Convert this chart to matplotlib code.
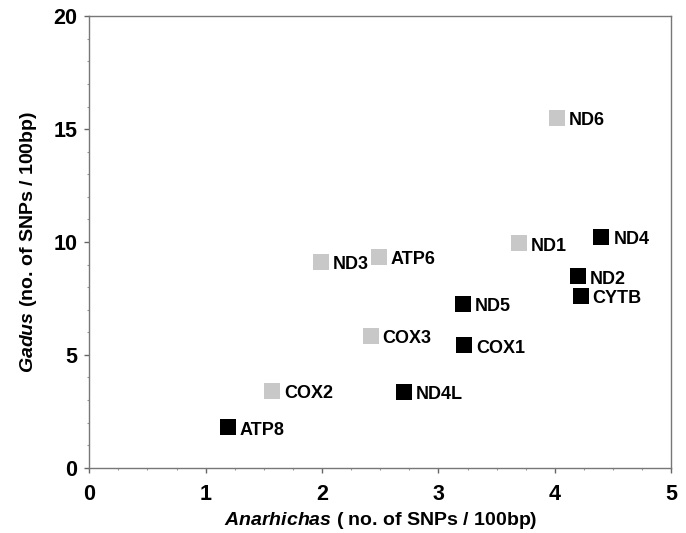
import matplotlib
matplotlib.use('Agg')
import matplotlib.pyplot as plt
from matplotlib.ticker import MultipleLocator

plt.rcParams['font.family'] = ['Liberation Sans', 'DejaVu Sans']
plt.rcParams['font.weight'] = 'bold'
plt.rcParams['mathtext.fontset'] = 'custom'
plt.rcParams['mathtext.bfit'] = 'Liberation Sans:italic:bold'
plt.rcParams['mathtext.it'] = 'Liberation Sans:italic:bold'

# genes with Gadus SNPs higher (grey) / lower (black) relative ranking
grey_genes = ['COX2', 'ND3', 'ATP6', 'COX3', 'ND1', 'ND6']
grey_x = [1.57, 1.99, 2.49, 2.42, 3.69, 4.02]
grey_y = [3.42, 9.13, 9.35, 5.84, 9.94, 15.5]

black_genes = ['ATP8', 'ND4L', 'ND5', 'COX1', 'ND4', 'ND2', 'CYTB']
black_x = [1.19, 2.70, 3.21, 3.22, 4.40, 4.20, 4.22]
black_y = [1.79, 3.36, 7.27, 5.42, 10.23, 8.48, 7.60]

fig = plt.figure(figsize=[6.86, 5.33], dpi=100)
ax = fig.add_axes([0.130, 0.1225, 0.8486, 0.8469])

ax.plot(grey_x, grey_y, 's', color='#c8c8c8', markersize=11, markeredgewidth=0)
ax.plot(black_x, black_y, 's', color='black', markersize=11, markeredgewidth=0)

for names, xs, ys in [(grey_genes, grey_x, grey_y), (black_genes, black_x, black_y)]:
    for name, x, y in zip(names, xs, ys):
        ax.annotate(name, xy=(x, y), xytext=(8.5, -0.5), textcoords='offset points',
                    fontsize=13, fontweight='bold', va='center_baseline', ha='left')

ax.set_xlim(0, 5)
ax.set_ylim(0, 20)
ax.xaxis.set_major_locator(MultipleLocator(1))
ax.xaxis.set_minor_locator(MultipleLocator(0.25))
ax.yaxis.set_major_locator(MultipleLocator(5))
ax.yaxis.set_minor_locator(MultipleLocator(1))

for s in ax.spines.values():
    s.set_color('#777777')
    s.set_linewidth(1.0)

ax.tick_params(which='major', length=3.5, width=1, color='#666666', labelsize=15.5)
ax.tick_params(which='minor', length=1.5, width=0.8, color='#999999')
ax.tick_params(axis='x', which='major', pad=8)
ax.tick_params(axis='y', which='major', pad=5)

ax.set_xlabel(r'$\mathbfit{Anarhichas}$ ( no. of SNPs / 100bp)', fontsize=14,
              fontweight='bold', labelpad=4)
ax.set_ylabel(r'$\mathbfit{Gadus}$ (no. of SNPs / 100bp)', fontsize=14,
              fontweight='bold', labelpad=10)

fig.savefig('out.png', dpi=100)
